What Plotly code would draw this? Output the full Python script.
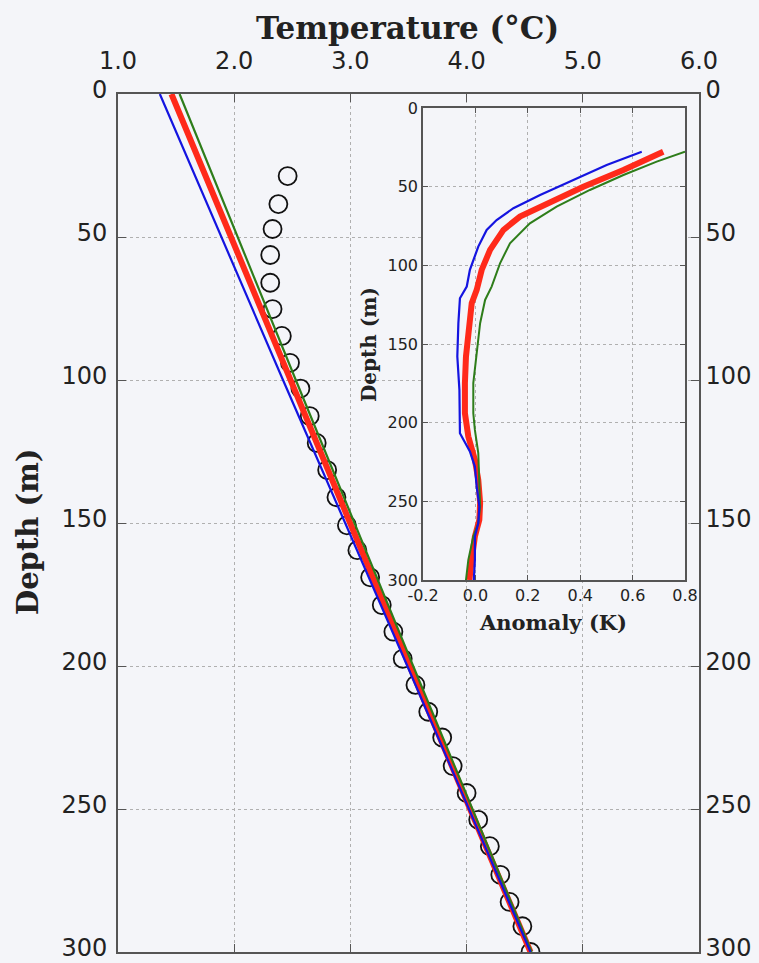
import plotly.graph_objects as go

# ---- Temperature profiles (main panel) ----
model_depth = [0, 100, 200, 300]
temp_blue = [1.36, 2.42, 3.49, 4.55]
temp_red = [1.46, 2.48, 3.51, 4.55]
temp_green = [1.53, 2.53, 3.54, 4.56]

# observed borehole temperatures
obs_depth = [28.7, 38.5, 47.2, 56.3, 66.0, 75.2, 84.6, 94.0, 103.0, 112.6,
             122.0, 131.5, 141.0, 150.8, 159.5, 169.0, 178.7, 188.0, 197.5, 206.6,
             216.0, 225.0, 235.0, 244.4, 253.8, 263.0, 273.0, 282.5, 291.0, 300.0]
obs_temp = [2.46, 2.38, 2.33, 2.31, 2.31, 2.33, 2.41, 2.48, 2.57, 2.65,
            2.71, 2.80, 2.88, 2.97, 3.06, 3.17, 3.27, 3.37, 3.45, 3.56,
            3.67, 3.79, 3.88, 4.00, 4.10, 4.20, 4.29, 4.37, 4.48, 4.55]

# ---- Anomaly profiles (inset) ----
anom_depth_blue = [27.8, 36.2, 45.7, 55.3, 63.7, 71.2, 77.5, 88.1, 102.9, 113.5, 120.9,
                   136.8, 158.0, 179.2, 206.7, 218.3, 227.9, 240.6, 253.3, 263.9, 272.4,
                   287.2, 300.0]
anom_blue = [0.635, 0.501, 0.374, 0.247, 0.145, 0.081, 0.043, 0.011, -0.021, -0.033, -0.059,
             -0.065, -0.069, -0.061, -0.059, -0.021, -0.002, 0.005, 0.015, 0.011, -0.002,
             -0.002, -0.006]

anom_depth_red = [27.8, 39.4, 50.0, 60.6, 69.0, 77.5, 90.2, 102.9, 115.6, 124.1, 141.0,
                  158.0, 174.9, 194.0, 208.8, 223.6, 236.3, 251.1, 261.8, 272.4, 287.2, 300.0]
anom_red = [0.717, 0.565, 0.412, 0.272, 0.170, 0.107, 0.056, 0.024, 0.005, -0.014, -0.027,
            -0.036, -0.040, -0.040, -0.027, -0.002, 0.011, 0.018, 0.015, -0.002, -0.014, -0.023]

anom_depth_green = [27.8, 34.1, 42.6, 52.1, 62.7, 73.3, 86.0, 98.7, 113.5, 122.0, 136.8,
                    158.0, 174.9, 194.0, 204.6, 219.4, 236.3, 253.3, 263.9, 272.4, 287.2, 300.0]
anom_green = [0.80, 0.692, 0.565, 0.437, 0.310, 0.208, 0.132, 0.094, 0.062, 0.037, 0.018,
              0.002, -0.008, -0.008, -0.002, 0.011, 0.015, 0.018, 0.011, -0.008, -0.027, -0.036]

temp_ticks = [1, 2, 3, 4, 5, 6]
temp_ticktext = ["1.0", "2.0", "3.0", "4.0", "5.0", "6.0"]
depth_ticks = [0, 50, 100, 150, 200, 250, 300]
anom_ticks = [-0.2, 0.0, 0.2, 0.4, 0.6, 0.8]
anom_ticktext = ["-0.2", "0.0", "0.2", "0.4", "0.6", "0.8"]

BG = "#f4f5f9"
SPINE = "#555555"
GRID = "#b0b0b0"
BLUE = "#1414e0"
RED = "#ff2a1a"
GREEN = "#2e7d1a"
TICKFONT = dict(family="DejaVu Sans", size=24, color="#222222")
INSET_TICKFONT = dict(family="DejaVu Sans", size=16, color="#222222")
TITLEFONT = "DejaVu Serif"

W, H = 759, 963
main_x = [118 / W, 699 / W]
main_y = [1 - 952 / H, 1 - 94 / H]
inset_x = [423 / W, 685 / W]
inset_y = [1 - 580 / H, 1 - 108 / H]

fig = go.Figure()

# observations (main panel)
fig.add_trace(go.Scatter(
    x=obs_temp, y=obs_depth, xaxis="x", yaxis="y", mode="markers",
    marker=dict(symbol="circle-open", size=18, color="#111111", line=dict(width=1.8)),
    showlegend=False, hoverinfo="skip"))

# model profiles (drawn on the right-hand overlay axis)
fig.add_trace(go.Scatter(x=temp_red, y=model_depth, xaxis="x", yaxis="y3", mode="lines",
                         line=dict(color=RED, width=6), showlegend=False))
fig.add_trace(go.Scatter(x=temp_green, y=model_depth, xaxis="x", yaxis="y3", mode="lines",
                         line=dict(color=GREEN, width=2.2), showlegend=False))
fig.add_trace(go.Scatter(x=temp_blue, y=model_depth, xaxis="x", yaxis="y3", mode="lines",
                         line=dict(color=BLUE, width=2.2), showlegend=False))

# inset anomalies
fig.add_trace(go.Scatter(x=anom_red, y=anom_depth_red, xaxis="x2", yaxis="y2", mode="lines",
                         line=dict(color=RED, width=6), showlegend=False))
fig.add_trace(go.Scatter(x=anom_green, y=anom_depth_green, xaxis="x2", yaxis="y2", mode="lines",
                         line=dict(color=GREEN, width=2), showlegend=False))
fig.add_trace(go.Scatter(x=anom_blue, y=anom_depth_blue, xaxis="x2", yaxis="y2", mode="lines",
                         line=dict(color=BLUE, width=2.2), showlegend=False))

common_grid = dict(showgrid=True, gridcolor=GRID, gridwidth=1, griddash="dot",
                   zeroline=False, showline=True, linecolor=SPINE, linewidth=1.6,
                   ticks="inside", tickcolor=SPINE, tickwidth=1.2, automargin=False,
                   ticklabeloverflow="allow")

fig.update_layout(
    width=W, height=H,
    margin=dict(l=0, r=0, t=0, b=0, pad=0),
    paper_bgcolor=BG, plot_bgcolor=BG,
    showlegend=False,
    xaxis=dict(domain=main_x, range=[1, 6], side="top", tickvals=temp_ticks,
               ticktext=temp_ticktext, tickfont=TICKFONT, ticklen=8, mirror="ticks",
               ticklabelstandoff=14, anchor="y", **common_grid),
    yaxis=dict(domain=main_y, range=[300, 0], tickvals=depth_ticks, tickfont=TICKFONT,
               ticklen=8, anchor="x", ticklabelstandoff=4, ticklabelshift=4, **common_grid),
    yaxis3=dict(overlaying="y", side="right", range=[300, 0], tickvals=depth_ticks,
                tickfont=TICKFONT, ticklen=8, anchor="x", showgrid=False, zeroline=False,
                showline=True, linecolor=SPINE, linewidth=1.6, ticks="inside",
                tickcolor=SPINE, tickwidth=1.2, ticklabelstandoff=0, ticklabelshift=4,
                automargin=False, ticklabeloverflow="allow"),
    xaxis2=dict(domain=inset_x, range=[-0.2, 0.8], tickvals=anom_ticks, ticktext=anom_ticktext,
                tickfont=INSET_TICKFONT, ticklen=5, mirror="ticks", anchor="y2", **common_grid),
    yaxis2=dict(domain=inset_y, range=[300, 0], tickvals=depth_ticks, tickfont=INSET_TICKFONT,
                ticklen=5, mirror="ticks", anchor="x2", ticklabelstandoff=0, **common_grid),
    shapes=[dict(type="rect", xref="x2", yref="y2", x0=-0.2, x1=0.8, y0=0, y1=300,
                 layer="below", fillcolor=BG, line=dict(width=0))],
    annotations=[
        dict(text="<b>Temperature (°C)</b>", xref="paper", yref="paper",
             x=407 / W, y=1 - 28 / H, xanchor="center", yanchor="middle", showarrow=False,
             font=dict(family=TITLEFONT, size=31, color="#222222")),
        dict(text="<b>Depth (m)</b>", xref="paper", yref="paper", textangle=-90,
             x=28 / W, y=1 - 532 / H, xanchor="center", yanchor="middle", showarrow=False,
             font=dict(family=TITLEFONT, size=29, color="#222222")),
        dict(text="<b>Anomaly (K)</b>", xref="paper", yref="paper",
             x=553 / W, y=1 - 622 / H, xanchor="center", yanchor="middle", showarrow=False,
             font=dict(family=TITLEFONT, size=21, color="#222222")),
        dict(text="<b>Depth (m)</b>", xref="paper", yref="paper", textangle=-90,
             x=369 / W, y=1 - 345 / H, xanchor="center", yanchor="middle", showarrow=False,
             font=dict(family=TITLEFONT, size=20, color="#222222")),
    ],
)

fig.write_html("out.html")
